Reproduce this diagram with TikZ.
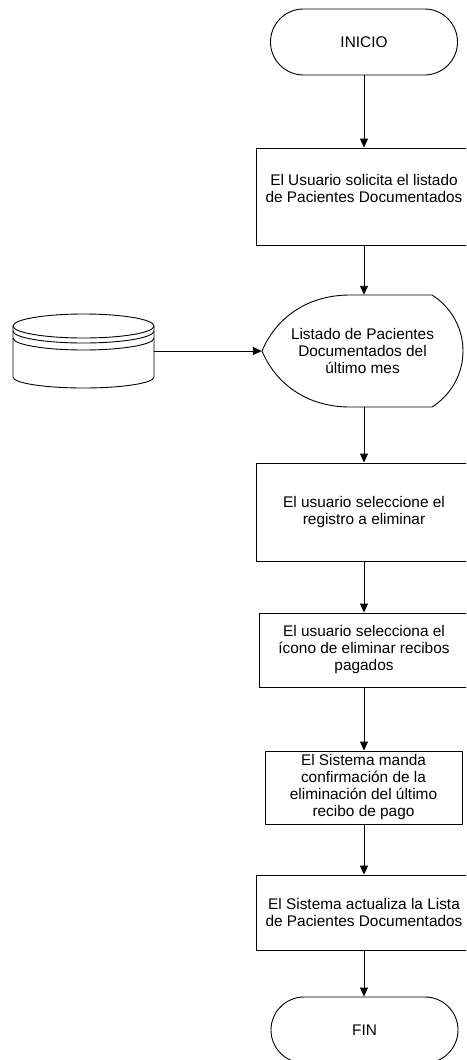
\documentclass[tikz,border=0pt]{standalone}
\usepackage{fontspec}
\setmainfont{Liberation Sans}
\usetikzlibrary{arrows.meta}
\begin{document}
\begin{tikzpicture}[x=1pt,y=-1pt,
  every node/.style={font=\fontsize{15.4}{17}\selectfont, align=center, inner sep=0pt},
  term/.style={draw, line width=0.9pt, rounded corners=33pt, minimum width=187pt, minimum height=66pt},
  proc/.style={draw, line width=0.9pt},
  outline/.style={line width=0.9pt},
  flow/.style={line width=0.9pt, -{Triangle[length=9pt,width=8pt]}}]
\clip (0,0) rectangle (466,1060);

% terminators and process boxes
\node[term] (inicio) at (364,42) {INICIO};
\node[proc, minimum width=216pt, minimum height=97pt] (b1) at (364,196.5)
  {El Usuario solicita el listado\\de Pacientes Documentados\\\mbox{}};
\node[minimum width=201pt, minimum height=112pt] (disp) at (362.5,351)
  {Listado de Pacientes\\Documentados del\\último mes};
\node[minimum width=141pt, minimum height=74pt] (db) at (83.5,351) {};
\node[proc, minimum width=216pt, minimum height=98pt] (b2) at (364,512)
  {El usuario seleccione el\\registro a eliminar};
\node[proc, minimum width=210pt, minimum height=74pt] (b3) at (364,650)
  {El usuario selecciona el\\ícono de eliminar recibos\\pagados};
\node[proc, minimum width=197pt, minimum height=73pt] (b4) at (363.5,787.5)
  {El Sistema manda\\confirmación de la\\eliminación del último\\recibo de pago};
\node[proc, minimum width=216pt, minimum height=75pt] (b5) at (364,912.5)
  {El Sistema actualiza la Lista\\de Pacientes Documentados};
\node[term] (fin) at (364.5,1030) {FIN};

% display shape
\draw[outline] (350,295) -- (432,295)
  .. controls (451,307) and (463,328) .. (463,351)
  .. controls (463,374) and (451,395) .. (432,407)
  -- (350,407)
  .. controls (305,407) and (275,382) .. (262,351)
  .. controls (275,320) and (305,295) .. (350,295) -- cycle;

% stored data drum
\draw[outline] (83.5,326) ellipse [x radius=70.5, y radius=12];
\draw[outline] (13,331) arc[start angle=180, end angle=0, x radius=70.5, y radius=12];
\draw[outline] (13,338) arc[start angle=180, end angle=0, x radius=70.5, y radius=12];
\draw[outline] (13,326) -- (13,377)
  arc[start angle=180, end angle=0, x radius=70.5, y radius=11] -- (154,326);

% connectors
\draw[flow] (inicio.south) -- (inicio.south |- b1.north);
\draw[flow] (b1.south) -- (b1.south |- disp.north);
\draw[flow] (db.east) -- (disp.west);
\draw[flow] (b1.south |- disp.south) -- (b1.south |- b2.north);
\draw[flow] (b2.south) -- (b2.south |- b3.north);
\draw[flow] (b3.south) -- (b3.south |- b4.north);
\draw[flow] (b3.south |- b4.south) -- (b3.south |- b5.north);
\draw[flow] (b5.south) -- (b5.south |- fin.north);
\end{tikzpicture}
\end{document}
